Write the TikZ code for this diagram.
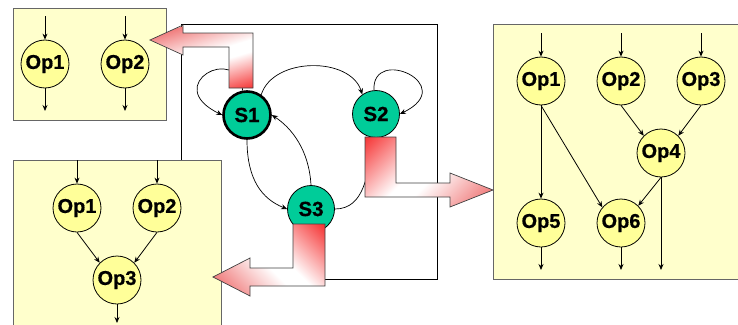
\documentclass[tikz,border=0pt]{standalone}
\usepackage{fontspec}
\setmainfont{Liberation Sans}[BoldFeatures={FakeBold=0.6}]
\usetikzlibrary{arrows.meta}
\definecolor{boxfill}{HTML}{FFFFCC}
\definecolor{opfill}{HTML}{FFFF99}
\definecolor{statefill}{HTML}{00CC99}
\definecolor{hotred}{HTML}{F52E2E}
\definecolor{tipred}{HTML}{F07C7C}
\definecolor{framegray}{HTML}{404040}
% pink -> white -> red, left to right
\pgfdeclarehorizontalshading{redfade}{100bp}{color(0bp)=(tipred); color(25bp)=(tipred);
  color(45bp)=(white); color(52bp)=(white); color(75bp)=(hotred); color(100bp)=(hotred)}
\tikzset{
  panel/.style={draw=framegray!80, line width=1pt, fill=boxfill},
  opnode/.style={circle, draw=black, line width=0.8pt, fill=opfill, minimum size=48pt,
    inner sep=0pt, font=\fontsize{20}{22}\selectfont\bfseries},
  statenode/.style={circle, draw=black, line width=0.8pt, fill=statefill, minimum size=47pt,
    inner sep=0pt, font=\fontsize{20.5}{22}\selectfont\bfseries},
  flow/.style={-{Stealth[length=6pt,width=5pt]}, line width=0.8pt},
  trans/.style={-{Stealth[length=6pt,width=5pt]}, line width=0.7pt},
  bigarrow/.style={draw=framegray, line width=0.7pt},
}
% block arrow: #1 outline, #2 centre of the gradient band, #3 its angle, #4 half its length
\newcommand{\blockarrow}[4]{%
  \begin{scope}
    \clip #1;
    \shade[shading=redfade, transform canvas={shift={#2}, rotate=#3}]
      (-#4,-120) rectangle (#4,120);
  \end{scope}
  \draw[bigarrow] #1;
}
\begin{document}
\begin{tikzpicture}[x=1pt,y=-1pt]
\useasboundingbox (0,0) rectangle (738,324);

% outer frame of the state machine
\draw[line width=1pt, draw=black] (181,24) rectangle (437,279);

% three operation panels
\path[panel] (13,8) rectangle (166,120);
\path[panel] (13,160) rectangle (221,340);
\path[panel] (493,24) rectangle (745,279);

% panel of S1
\node[opnode] (a1) at (45,64) {Op1};
\node[opnode] (a2) at (125,64) {Op2};
\coordinate (a1in) at (45,16);  \coordinate (a1out) at (45,111);
\coordinate (a2in) at (125,16); \coordinate (a2out) at (125,111);
\draw[flow] (a1in) -- (a1);  \draw[flow] (a1) -- (a1out);
\draw[flow] (a2in) -- (a2);  \draw[flow] (a2) -- (a2out);

% panel of S3
\node[opnode] (b1) at (77,208) {Op1};
\node[opnode] (b2) at (157,208) {Op2};
\node[opnode] (b3) at (117,280) {Op3};
\coordinate (b1in) at (77,160); \coordinate (b2in) at (157,160);
\coordinate (b3out) at (117,323);
\draw[flow] (b1in) -- (b1);
\draw[flow] (b2in) -- (b2);
\draw[flow] (b1.south) -- (b3.135);
\draw[flow] (b2.south) -- (b3.45);
\draw[flow] (b3) -- (b3out);

% panel of S2
\node[opnode] (c1) at (541,81) {Op1};
\node[opnode] (c2) at (621,81) {Op2};
\node[opnode] (c3) at (701,81) {Op3};
\node[opnode] (c4) at (661,153) {Op4};
\node[opnode] (c5) at (541,223) {Op5};
\node[opnode] (c6) at (621,223) {Op6};
\coordinate (c1in) at (541,33); \coordinate (c2in) at (621,33); \coordinate (c3in) at (701,33);
\coordinate (c4out) at (661,270); \coordinate (c5out) at (541,270); \coordinate (c6out) at (621,270);
\draw[flow] (c1in) -- (c1);
\draw[flow] (c2in) -- (c2);
\draw[flow] (c3in) -- (c3);
\draw[flow] (c1.south) -- (c5);
\draw[flow] (c1.south) -- (c6.140);
\draw[flow] (c2.south) -- (c4.135);
\draw[flow] (c3.south) -- (c4.45);
\draw[flow] (c4.south) -- (c6.45);
\draw[flow] (c4.south) -- (c4out);
\draw[flow] (c5) -- (c5out);
\draw[flow] (c6) -- (c6out);

% states
\node[statenode, line width=2.6pt] (S1) at (247,115) {S1};
\node[statenode] (S2) at (376,114) {S2};
\node[statenode] (S3) at (311,209) {S3};

% transitions
\draw[trans] (S1.100) .. controls +(-5,-48) and +(-62,-30) .. (S1.west);
\draw[trans] (S2.95) .. controls +(-2,-45) and +(60,-29) .. (S2.east);
\draw[trans] (S1.55) .. controls +(12,-38) and +(-12,-38) .. (S2.125);
\draw[trans] (S1.south) .. controls +(0,40) and +(-25,-10) .. (S3.west);
\draw[trans] (S3.north) .. controls +(-2,-35) and +(20,13) .. (S1.east);
\draw[trans] (S3.east) .. controls +(30,0) and +(-6,35) .. (S2.265);

% activation arrows from states to their panels
\blockarrow{(253,88) -- (253,33) -- (183,33) -- (183,25) -- (150,40) -- (183,55) -- (183,47)
  -- (229,47) -- (229,88) -- cycle}{(206.5,61.2)}{-73.3}{40.2}
\blockarrow{(365,137) -- (396,137) -- (396,183) -- (450,183) -- (450,173) -- (493,190)
  -- (450,207) -- (450,197) -- (365,197) -- cycle}{(424.2,167.2)}{135}{64.7}
\blockarrow{(325,224) -- (325,286) -- (250,286) -- (250,296) -- (213,277) -- (250,258)
  -- (250,268) -- (293,268) -- (293,224) -- cycle}{(273.7,255.3)}{45}{58.4}
\end{tikzpicture}
\end{document}
